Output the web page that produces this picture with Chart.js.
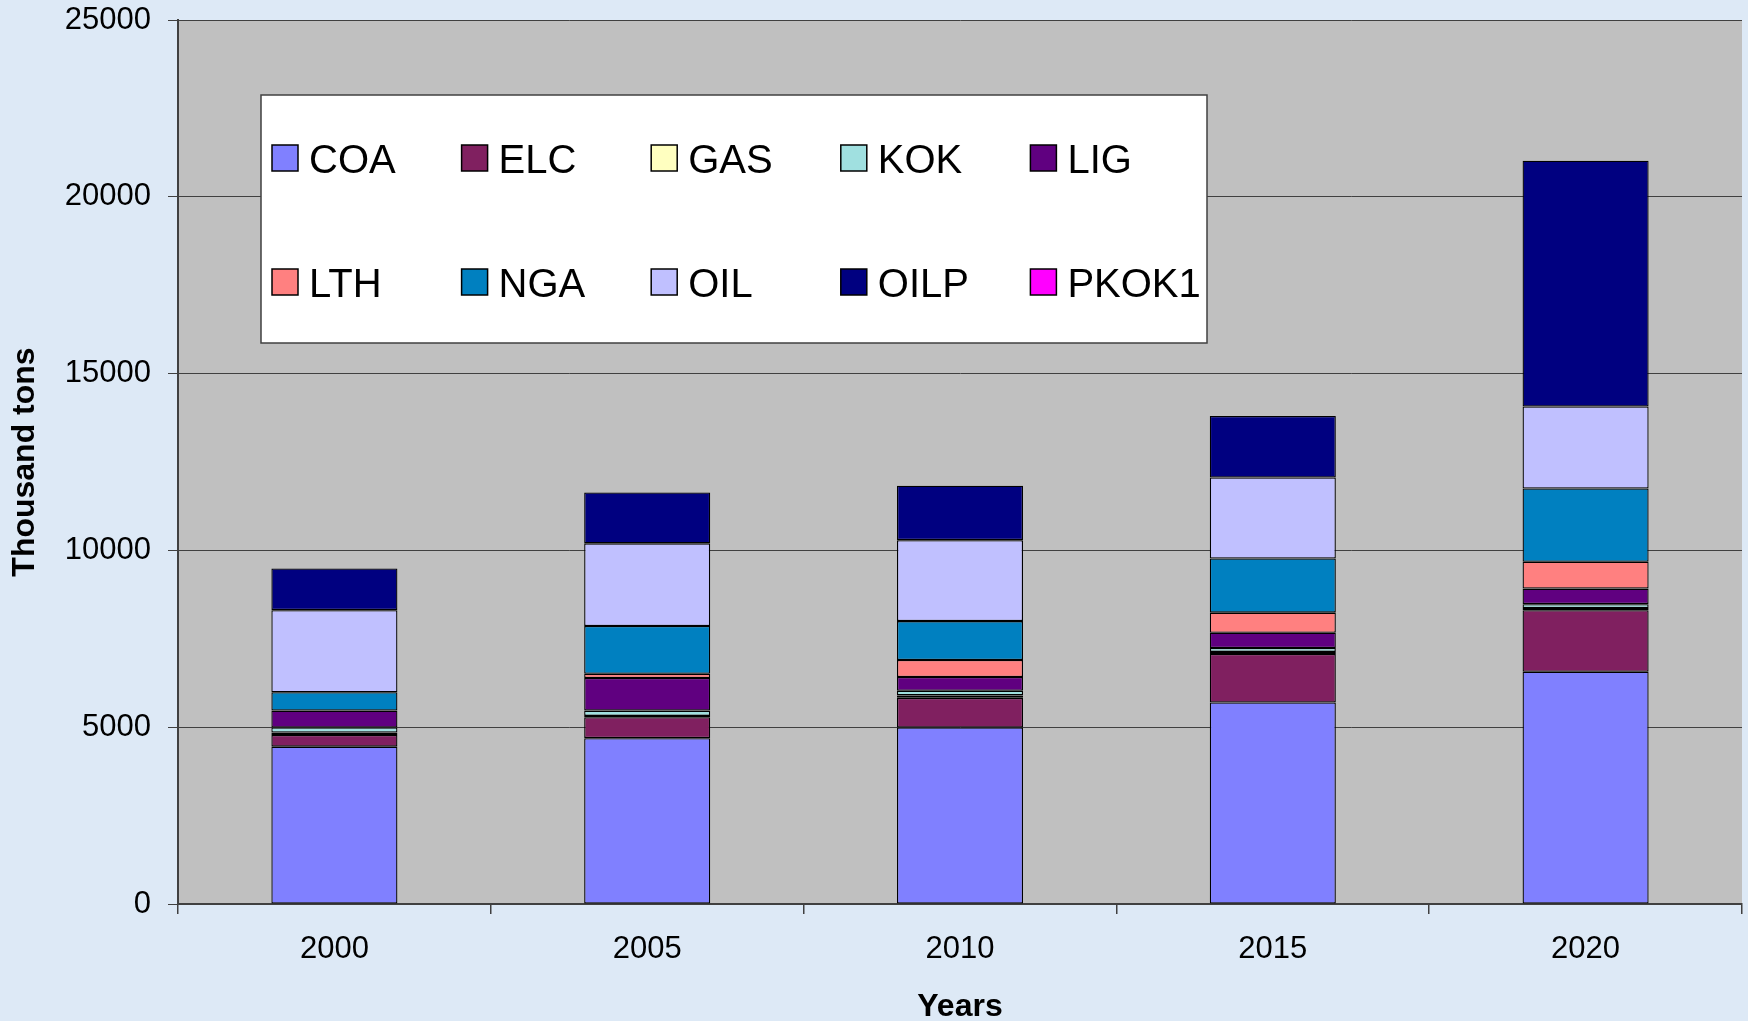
<!DOCTYPE html>
<html>
<head>
<meta charset="utf-8">
<title>Thousand tons by fuel</title>
<script src="https://cdn.jsdelivr.net/npm/chart.js@4.4.1/dist/chart.umd.min.js"></script>
<style>
    html, body { margin: 0; padding: 0; background: #dde9f6; }
    #wrap { position: relative; width: 1748px; height: 1021px; }
</style>
</head>
<body>
<div id="wrap"><canvas id="grafico" width="1748" height="1021"></canvas></div>
<script>
const years = ['2000', '2005', '2010', '2015', '2020']

const coa = [4450, 4690, 4990, 5700, 6570]
const elc = [330, 590, 840, 1370, 1740]
const gas = [70, 40, 70, 60, 60]
const kok = [140, 150, 130, 110, 110]
const lig = [480, 920, 390, 430, 440]
const lth = [0, 120, 480, 570, 760]
const nga = [520, 1350, 1100, 1530, 2070]
const oil = [2320, 2340, 2290, 2290, 2320]
const oilp = [1180, 1440, 1540, 1740, 6950]
const pkok1 = [0, 0, 0, 0, 0]

const yTicks = [0, 5000, 10000, 15000, 20000, 25000]

const font = "'Liberation Sans', Arial, sans-serif"

const series = [
    { label: 'COA', data: coa, color: '#8080ff' },
    { label: 'ELC', data: elc, color: '#802060' },
    { label: 'GAS', data: gas, color: '#ffffc0' },
    { label: 'KOK', data: kok, color: '#a0e0e0' },
    { label: 'LIG', data: lig, color: '#600080' },
    { label: 'LTH', data: lth, color: '#ff8080' },
    { label: 'NGA', data: nga, color: '#0080c0' },
    { label: 'OIL', data: oil, color: '#c0c0ff' },
    { label: 'OILP', data: oilp, color: '#000080' },
    { label: 'PKOK1', data: pkok1, color: '#ff00ff' }
]

// gray plot background
const plotBg = {
    id: 'plotBg',
    beforeDraw(chart) {
        const { ctx, chartArea: a } = chart
        ctx.save()
        ctx.fillStyle = '#c0c0c0'
        ctx.fillRect(a.left, a.top, a.right - a.left, a.bottom - a.top)
        ctx.restore()
    }
}

// legend box inside the plot, 2 rows x 5 columns
const boxLegend = {
    id: 'boxLegend',
    afterDatasetsDraw(chart) {
        const ctx = chart.ctx
        ctx.save()
        ctx.fillStyle = '#ffffff'
        ctx.fillRect(261, 95, 946, 248)
        ctx.strokeStyle = '#404040'
        ctx.lineWidth = 1.5
        ctx.strokeRect(261, 95, 946, 248)

        ctx.font = `40px ${font}`
        ctx.textBaseline = 'middle'
        ctx.textAlign = 'left'
        chart.data.datasets.forEach((ds, i) => {
            const col = i % 5
            const row = Math.floor(i / 5)
            const x = 272 + col * 189.6
            const y = row === 0 ? 158 : 282
            ctx.fillStyle = ds.backgroundColor
            ctx.fillRect(x, y - 13, 26, 26)
            ctx.strokeStyle = '#000000'
            ctx.lineWidth = 1.5
            ctx.strokeRect(x, y - 13, 26, 26)
            ctx.fillStyle = '#000000'
            ctx.fillText(ds.label, x + 37, y + 4)
        })
        ctx.restore()
    }
}

const chGrafico = new Chart(document.getElementById('grafico'), {
    type: 'bar',
    data: {
        labels: years,
        datasets: series.map(s => ({
            label: s.label,
            data: s.data,
            backgroundColor: s.color,
            borderColor: '#000000',
            borderWidth: 1.3,
            borderSkipped: false,
            categoryPercentage: 1,
            barPercentage: 0.403
        }))
    },
    options: {
        responsive: false,
        animation: false,
        layout: { padding: { left: 0, top: 20, right: 6, bottom: 0 } },
        plugins: {
            legend: { display: false },
            tooltip: { enabled: false }
        },
        scales: {
            x: {
                stacked: true,
                afterFit: scale => {
                    scale.height = 117
                    scale.paddingLeft = 0
                    scale.paddingRight = 0
                },
                border: { display: true, color: '#404040', width: 2 },
                grid: { drawOnChartArea: false, tickLength: 10, tickColor: '#404040', lineWidth: 1.5 },
                ticks: { color: '#000000', padding: 17, font: { family: font, size: 31 } },
                title: {
                    display: true,
                    text: 'Years',
                    color: '#000000',
                    padding: 0,
                    font: { family: font, size: 32, weight: 'bold', lineHeight: 0.85 }
                }
            },
            y: {
                stacked: true,
                min: 0,
                max: 25000,
                afterFit: scale => {
                    scale.width = 178
                    scale.paddingTop = 0
                    scale.paddingBottom = 0
                },
                afterBuildTicks: scale => { scale.ticks = yTicks.map(v => ({ value: v })) },
                border: { display: true, color: '#404040', width: 2 },
                grid: { color: '#404040', lineWidth: 1, tickLength: 10, tickColor: '#404040' },
                ticks: {
                    color: '#000000',
                    padding: 17,
                    font: { family: font, size: 31 },
                    callback: v => String(v)
                },
                title: {
                    display: true,
                    text: 'Thousand tons',
                    color: '#000000',
                    padding: { top: 6, bottom: 0 },
                    font: { family: font, size: 32, weight: 'bold', lineHeight: 1.2 }
                }
            }
        }
    },
    plugins: [plotBg, boxLegend]
})
</script>
</body>
</html>
